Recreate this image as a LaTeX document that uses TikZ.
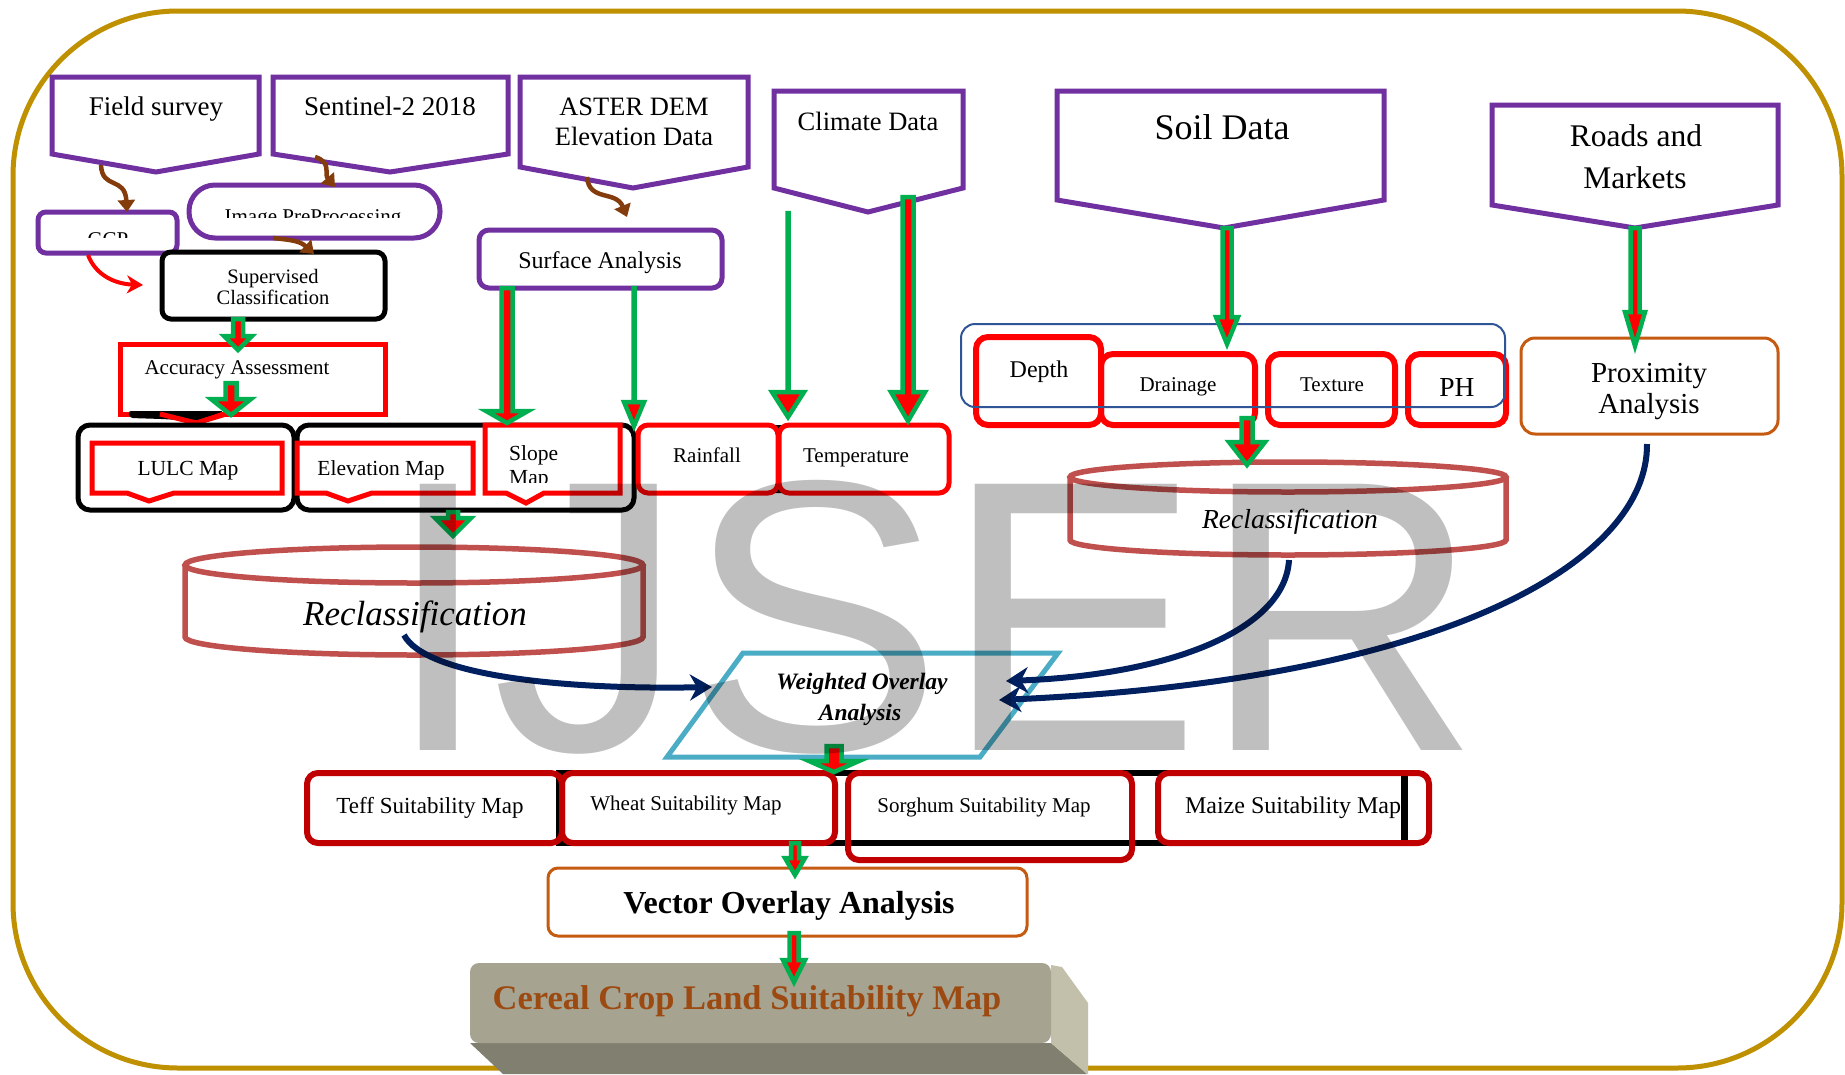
\documentclass[tikz,border=0pt]{standalone}
\usepackage{fontspec}
\setmainfont{Liberation Serif}
\newfontfamily\wmfont{Liberation Sans}
\usetikzlibrary{arrows.meta}
\definecolor{gold}{HTML}{BF9000}
\definecolor{purp}{HTML}{7030A0}
\definecolor{grn}{HTML}{00B050}
\definecolor{redc}{HTML}{FF0000}
\definecolor{dred}{HTML}{C00000}
\definecolor{navy}{HTML}{002060}
\definecolor{cyl}{HTML}{C0504D}
\definecolor{brn}{HTML}{C55A11}
\definecolor{brarrc}{HTML}{843C0C}
\definecolor{tealc}{HTML}{4BACC6}
\definecolor{grpblue}{HTML}{2F5597}
\definecolor{topface}{HTML}{A6A491}
\definecolor{sideface}{HTML}{C2BFAA}
\definecolor{botface}{HTML}{817F70}
\definecolor{cerealtxt}{HTML}{9C4A12}
\newcommand\fsz[1]{\fontsize{#1}{#1}\selectfont}
% block arrow: x, ystart, ytip, shaft half, head half, head length
\newcommand\barr[6]{\filldraw[blockarr] (#1-#4,#2) -- (#1+#4,#2) -- (#1+#4,#3-#6) -- (#1+#5,#3-#6) -- (#1,#3) -- (#1-#5,#3-#6) -- (#1-#4,#3-#6) -- cycle;}
% callout box: x1,y1,x2,y2,notch left,notch right,tip x,tip y
\newcommand\callout[8]{\filldraw[redcall] (#1,#2) -- (#3,#2) -- (#3,#4) -- (#6,#4) -- (#7,#8) -- (#5,#4) -- (#1,#4) -- cycle;}
\tikzset{
  txt/.style={inner sep=0pt, anchor=base, text=black},
  purpbox/.style={draw=purp, line width=5pt, fill=white, line join=miter},
  blackbox/.style={draw=black, line width=5pt, fill=white, rounded corners=12pt},
  redbox/.style={draw=redc, line width=5pt, fill=white, rounded corners=10pt},
  redcall/.style={draw=redc, line width=5pt, fill=white, line join=miter},
  soilbox/.style={draw=redc, line width=6pt, rounded corners=12pt},
  suitbox/.style={draw=dred, line width=6pt, rounded corners=11pt},
  brnbox/.style={draw=brn, line width=3pt, fill=white, rounded corners=14pt},
  cylline/.style={draw=cyl, line width=5.5pt},
  blockarr/.style={fill=redc, draw=grn, line width=4.5pt, line join=miter},
  navarr/.style={draw=navy, line width=6pt, -{Stealth[length=22pt,width=26pt,inset=7pt]}},
  brarr/.style={draw=brarrc, line width=4.5pt, -{Triangle[length=12pt,width=17pt]}},
  redarr/.style={draw=redc, line width=4pt, -{Stealth[length=16pt,width=18pt,inset=5pt]}}
}
\begin{document}
\begin{tikzpicture}[x=1pt,y=-1pt]
\useasboundingbox (0,0) rectangle (1845,1074);
\fill[white] (0,0) rectangle (1845,1074);
% outer border
\draw[gold, line width=5pt, rounded corners=165pt] (13,11) rectangle (1842,1068);

% ---------- top source pentagons ----------
\filldraw[purpbox] (52,77) -- (259,77) -- (259,154) -- (156,172) -- (52,154) -- cycle;
\node[txt, font=\fsz{27}] (field) at (156,115) {Field survey};
\filldraw[purpbox] (273,77) -- (508,77) -- (508,154) -- (390,172) -- (273,154) -- cycle;
\node[txt, font=\fsz{27}] (sentinel) at (390,115) {Sentinel-2 2018};
\filldraw[purpbox] (520,77) -- (748,77) -- (748,167) -- (633,188) -- (520,167) -- cycle;
\node[txt, font=\fsz{26.5}] (aster1) at (634,115) {ASTER DEM};
\node[txt, font=\fsz{26.5}] (aster2) at (634,145) {Elevation Data};
\filldraw[purpbox] (774,91) -- (963,91) -- (963,188) -- (868,212) -- (774,188) -- cycle;
\node[txt, font=\fsz{26.5}] (climate) at (868,130) {Climate Data};
\filldraw[purpbox] (1057,91) -- (1384,91) -- (1384,200) -- (1224,228) -- (1057,200) -- cycle;
\node[txt, font=\fsz{36}] (soil) at (1222,139) {Soil Data};
\filldraw[purpbox] (1492,105) -- (1778,105) -- (1778,205) -- (1635,228) -- (1492,205) -- cycle;
\node[txt, font=\fsz{31.5}] (roads1) at (1636,146) {Roads and};
\node[txt, font=\fsz{31.5}] (roads2) at (1635,188) {Markets};

% ---------- left branch ----------
\filldraw[purpbox, rounded corners=8pt] (38,212) rectangle (177,253);
\begin{scope}
  \clip (38,212) rectangle (177,237);
  \node[txt, font=\fsz{21}] (gcp) at (108,246) {GCP};
\end{scope}
\filldraw[purpbox, rounded corners=26pt] (189,185) rectangle (440,238);
\begin{scope}
  \clip (189,185) rectangle (440,217);
  \node[txt, font=\fsz{21}] (imgpre) at (313,223) {Image PreProcessing};
\end{scope}
\filldraw[blackbox, rounded corners=9pt] (162,252) rectangle (385,319);
\node[txt, font=\fsz{20.5}] (sup1) at (273,283) {Supervised};
\node[txt, font=\fsz{20.5}] (sup2) at (273,304) {Classification};

\filldraw[draw=redc, line width=5pt, fill=white] (120,344) rectangle (385,414);
\fill[black, rounded corners=3pt] (128,411) -- (224,411) -- (196,421) -- (162,419) -- (130,418) -- cycle;
\draw[redc, line width=5pt, line join=miter] (160,414) -- (196,423) -- (226,414);
\node[txt, font=\fsz{21}] (acc) at (237,374) {Accuracy Assessment};

\filldraw[blackbox] (78,425) rectangle (294,510);
\filldraw[blackbox] (297,425) rectangle (634,510);
\callout{92}{443}{282}{493}{127}{174}{149}{501}
\node[txt, font=\fsz{21.5}] (lulc) at (188,475) {LULC Map};
\callout{297}{443}{473}{493}{326}{372}{348}{501}
\node[txt, font=\fsz{21.5}] (elev) at (381,475) {Elevation Map};
\callout{485}{425}{620}{493}{506}{544}{526}{503}
\node[txt, font=\fsz{21.5}, anchor=base west] (slope) at (509,460) {Slope};
\begin{scope}
  \clip (487,427) rectangle (618,482);
  \node[txt, font=\fsz{21.5}, anchor=base west] (slope2) at (509,484) {Map};
\end{scope}

\filldraw[purpbox, rounded corners=10pt] (479,230) rectangle (722,288);
\node[txt, font=\fsz{24}] (surf) at (600,268) {Surface Analysis};

% climate outputs
\filldraw[draw=black, line width=4pt, fill=white, rounded corners=10pt] (640,427) rectangle (947,491);
\filldraw[redbox] (638,425) rectangle (778,493);
\node[txt, font=\fsz{21}] (rain) at (707,462) {Rainfall};
\filldraw[redbox] (779,425) rectangle (949,493);
\node[txt, font=\fsz{21}] (temp) at (856,462) {Temperature};

% left cylinder
\filldraw[cylline, fill=white] (185,565) -- (185,637) arc[start angle=180, end angle=360, x radius=229pt, y radius=18pt] -- (643,565);
\draw[cylline] (414,565) ellipse [x radius=229pt, y radius=18pt];
\node[txt, font=\fsz{35}\itshape] (recl) at (415,625) {Reclassification};

% ---------- soil branch ----------
\draw[soilbox] (976,337) rectangle (1101,425);
\draw[soilbox] (1101,354) rectangle (1255,425);
\draw[soilbox] (1268,354) rectangle (1395,425);
\draw[soilbox] (1408,354) rectangle (1506,425);
\draw[grpblue, line width=2pt, rounded corners=14pt] (961,324) rectangle (1505,407);
\node[txt, font=\fsz{24}] (depth) at (1039,377) {Depth};
\node[txt, font=\fsz{21}] (drain) at (1178,391) {Drainage};
\node[txt, font=\fsz{21}] (texture) at (1332,391) {Texture};
\node[txt, font=\fsz{27.5}] (ph) at (1457,396) {PH};

\filldraw[brnbox] (1521,338) rectangle (1778,434);
\node[txt, font=\fsz{29}] (prox1) at (1649,382) {Proximity};
\node[txt, font=\fsz{29}] (prox2) at (1649,413) {Analysis};

% right cylinder
\filldraw[cylline, fill=white] (1070,477) -- (1070,540) arc[start angle=180, end angle=360, x radius=218pt, y radius=15pt] -- (1506,477);
\draw[cylline] (1288,477) ellipse [x radius=218pt, y radius=15pt];
\node[txt, font=\fsz{27.5}\itshape] (recr) at (1290,528) {Reclassification};

% ---------- weighted overlay ----------
\filldraw[draw=tealc, line width=5pt, fill=white, line join=miter] (743,653) -- (1058,653) -- (980,757) -- (667,757) -- cycle;
\node[txt, font=\fsz{23.5}\bfseries\itshape] (wo1) at (862,689) {Weighted Overlay};
\node[txt, font=\fsz{23.5}\bfseries\itshape] (wo2) at (860,720) {Analysis};

% ---------- suitability maps ----------
\draw[black, line width=6pt] (559,773) rectangle (1405,843);
\draw[suitbox] (307,773) rectangle (562,843);
\draw[suitbox] (562,773) rectangle (835,843);
\draw[suitbox] (848,773) rectangle (1132,860);
\draw[suitbox] (1158,773) rectangle (1429,843);
\node[txt, font=\fsz{23}] (teff) at (430,813) {Teff Suitability Map};
\node[txt, font=\fsz{21}] (wheat) at (686,810) {Wheat Suitability Map};
\node[txt, font=\fsz{21}] (sorg) at (984,812) {Sorghum Suitability Map};
\node[txt, font=\fsz{24}] (maize) at (1293,813) {Maize Suitability Map};
\draw[black, line width=3pt] (1402,776) -- (1402,840);

\filldraw[brnbox, rounded corners=10pt] (548,868) rectangle (1027,936);
\node[txt, font=\fsz{32}\bfseries] (vector) at (789,913) {Vector Overlay Analysis};

% ---------- cereal 3D box ----------
\fill[botface] (470,1043) -- (1051,1043) -- (1087,1074) -- (503,1074) -- cycle;
\fill[sideface] (1051,965) -- (1062,967) -- (1088,1003) -- (1088,1074) -- (1087,1074) -- (1051,1043) -- cycle;
\fill[topface, rounded corners=9pt] (470,1043) -- (470,963) -- (1051,963) -- (1051,1043) -- cycle;
\node[txt, font=\fsz{34.5}\bfseries, text=cerealtxt] (cereal) at (747,1009) {Cereal Crop Land Suitability Map};

% ---------- connectors ----------
\draw[brarr] (101,165) .. controls (102,190) and (125,176) .. (127,212);
\draw[brarr] (315,157) .. controls (332,162) and (324,174) .. (335,187);
\draw[brarr] (273,238) .. controls (292,240) and (300,241) .. (314,254);
\draw[brarr] (587,177) .. controls (589,202) and (616,190) .. (627,217);
\draw[redarr] (88,255) .. controls (96,276) and (116,284) .. (143,285);

\barr{238}{319}{350}{5}{14}{14}
\barr{231}{383}{415}{5.5}{20}{16}
\barr{507}{288}{423}{5.5}{21}{12}
\barr{634}{288}{426}{0.5}{10}{24}
\barr{788}{213}{417}{0.5}{16}{25}
\barr{908}{197}{421}{5.5}{17}{29}
\barr{1227}{228}{344}{4.5}{11}{27}
\barr{1635}{228}{346}{4.5}{10}{34}
\barr{1247}{418}{465}{5.5}{18}{23}
\barr{453}{512}{536}{5}{18}{18}
\barr{834}{746}{772}{7.5}{25}{11}
\barr{795}{843}{875}{4}{10}{17}
\barr{794}{933}{982}{4.5}{11}{22}

\draw[navarr] (404,635) .. controls (425,675) and (560,690) .. (712,687);
\draw[navarr] (1289,560) .. controls (1285,630) and (1170,675) .. (1006,681);
\draw[navarr] (1647,444) .. controls (1648,560) and (1450,680) .. (999,700);

% ---------- watermark ----------
\node[inner sep=0pt, anchor=base, text=black, text opacity=0.25, font=\wmfont\fontsize{387}{390}\selectfont] (wm) at (933,750) {IJSER};
\end{tikzpicture}
\end{document}
